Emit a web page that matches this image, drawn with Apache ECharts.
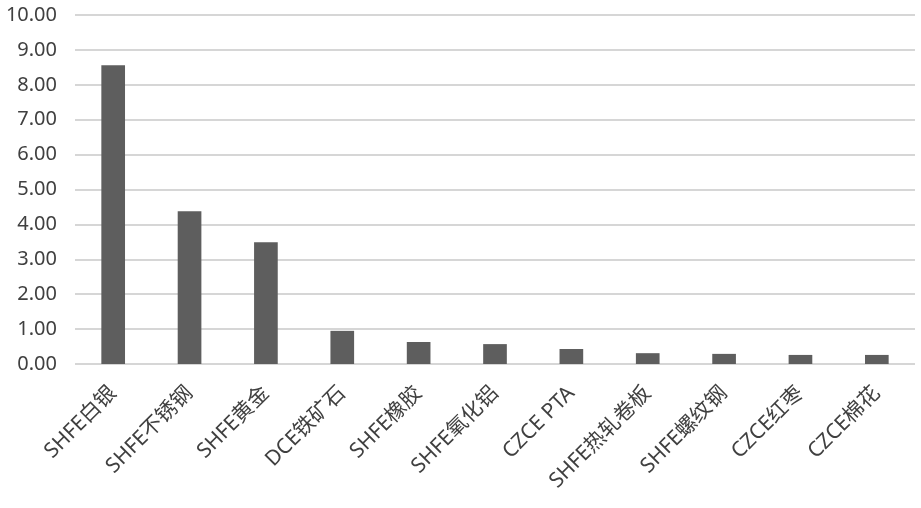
<!DOCTYPE html>
<html><head><meta charset="utf-8">
<script src="https://cdn.jsdelivr.net/npm/echarts@6/dist/echarts.min.js"></script>
<style>html,body{margin:0;padding:0;background:#fff}#c{width:921px;height:508px}</style>
</head><body><div id="c"></div>
<script>
const categories = ['SHFE白银','SHFE不锈钢','SHFE黄金','DCE铁矿石','SHFE橡胶','SHFE氧化铝','CZCE PTA','SHFE热轧卷板','SHFE螺纹钢','CZCE红枣','CZCE棉花'];
const values = [8.56, 4.38, 3.49, 0.95, 0.63, 0.57, 0.43, 0.31, 0.29, 0.26, 0.26];
const yTicks = {min: 0, max: 10, interval: 1};

const chart = echarts.init(document.getElementById('c'), null, {renderer: 'canvas'});
chart.setOption({
  animation: false,
  grid: {left: 75, right: 6, top: 15, bottom: 144, containLabel: false},
  xAxis: {
    type: 'category', data: categories,
    axisLine: {show: false}, axisTick: {show: false},
    axisLabel: {rotate: 45, interval: 0, margin: 26, color: '#404040', fontSize: 21,
      fontFamily: '"Noto Sans", "Noto Sans CJK SC", sans-serif'}
  },
  yAxis: {
    type: 'value', min: yTicks.min, max: yTicks.max, interval: yTicks.interval,
    axisLine: {show: false}, axisTick: {show: false},
    splitLine: {lineStyle: {color: '#c9c9c9', width: 1.5}},
    axisLabel: {color: '#404040', fontSize: 20, margin: 18,
      fontFamily: '"Noto Sans", sans-serif',
      formatter: v => v.toFixed(2)}
  },
  series: [{type: 'bar', data: values, barWidth: '31%', itemStyle: {color: '#5e5e5e'}}]
});
</script></body></html>
